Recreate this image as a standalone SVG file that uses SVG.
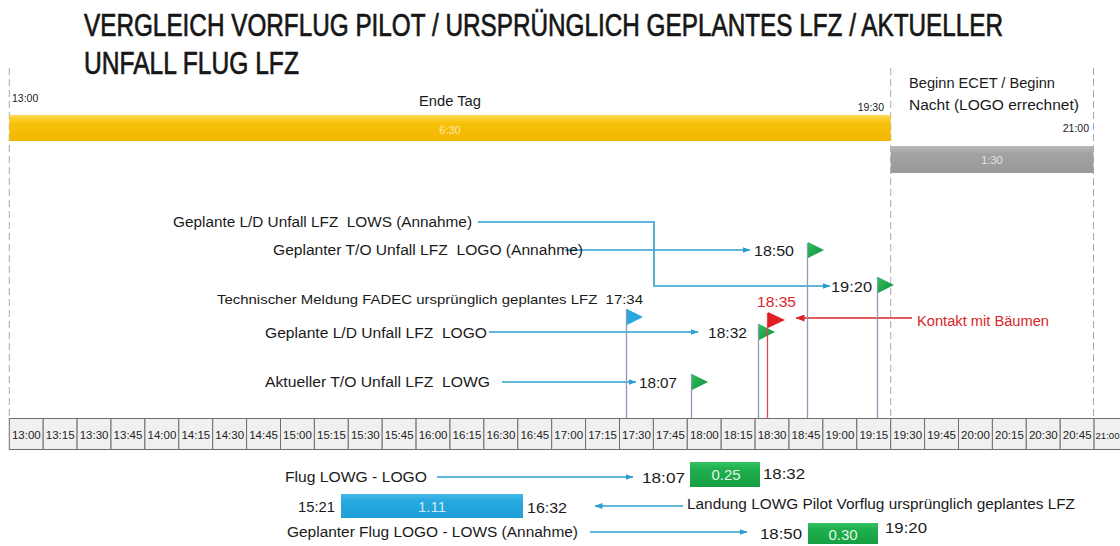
<svg xmlns="http://www.w3.org/2000/svg" width="1120" height="546" viewBox="0 0 1120 546">
<defs>
<style>
text{font-family:"Liberation Sans",Arial,sans-serif;fill:#1a1a1a;white-space:pre}
.title{font-size:32px;font-weight:normal;fill:#161616;stroke:#161616;stroke-width:0.7}
.lbl{font-size:14px}
.tm{font-size:15.5px}
.sm{font-size:10.5px}
.red{fill:#d8262a}
.cell rect{fill:#f0f0f0;stroke:#6e6e6e;stroke-width:1}
.cell text{font-size:11.5px;text-anchor:middle;fill:#222}
.conn{stroke:#2a9fd0;stroke-width:1.6;fill:none}
.rconn{stroke:#d8262a;stroke-width:1.6;fill:none}
.pole{stroke:#8d9ab0;stroke-width:1.3}
.dash{stroke:#a3aab3;stroke-width:1;stroke-dasharray:7 4}
.btxt{font-size:15px;text-anchor:middle}
</style>
<linearGradient id="gY" x1="0" y1="0" x2="0" y2="1"><stop offset="0" stop-color="#fdd94f"/><stop offset="0.3" stop-color="#f8c20c"/><stop offset="1" stop-color="#f2b600"/></linearGradient>
<linearGradient id="gG" x1="0" y1="0" x2="0" y2="1"><stop offset="0" stop-color="#b9b9b9"/><stop offset="0.3" stop-color="#a2a2a2"/><stop offset="1" stop-color="#9a9a9a"/></linearGradient>
<linearGradient id="gB" x1="0" y1="0" x2="0" y2="1"><stop offset="0" stop-color="#45b9e8"/><stop offset="0.3" stop-color="#27a8df"/><stop offset="1" stop-color="#1f9fd8"/></linearGradient>
<linearGradient id="gGr" x1="0" y1="0" x2="0" y2="1"><stop offset="0" stop-color="#34c263"/><stop offset="0.3" stop-color="#1fae4d"/><stop offset="1" stop-color="#16a044"/></linearGradient>
<linearGradient id="gF" x1="0" y1="0" x2="1" y2="1"><stop offset="0" stop-color="#2fbf5c"/><stop offset="1" stop-color="#0f8e3c"/></linearGradient>
<marker id="ab" markerWidth="8" markerHeight="6" refX="7.5" refY="3" orient="auto" markerUnits="userSpaceOnUse"><path d="M0,0 L8,3 L0,6 Z" fill="#2a9fd0"/></marker>
<marker id="ar" markerWidth="9" markerHeight="7" refX="8.5" refY="3.5" orient="auto" markerUnits="userSpaceOnUse"><path d="M0,0 L9,3.5 L0,7 Z" fill="#d8262a"/></marker>
</defs>
<rect width="1120" height="546" fill="#ffffff"/>

<g id="title">
<text class="title" transform="translate(84,36) scale(0.7,1)" x="0" y="0" textLength="1313" lengthAdjust="spacingAndGlyphs">VERGLEICH VORFLUG PILOT / URSPRÜNGLICH GEPLANTES LFZ / AKTUELLER</text>
<text class="title" transform="translate(84,74) scale(0.7,1)" x="0" y="0" textLength="307" lengthAdjust="spacingAndGlyphs">UNFALL FLUG LFZ</text>
</g>

<g id="guides">
<line class="dash" x1="9.3" y1="68" x2="9.3" y2="417"/>
<line class="dash" x1="890.7" y1="68" x2="890.7" y2="417"/>
<line class="dash" x1="1093.5" y1="68" x2="1093.5" y2="417"/>
</g>

<g id="day-bar">
<text class="sm" x="12" y="102">13:00</text>
<text class="lbl" x="419" y="106" textLength="62" lengthAdjust="spacingAndGlyphs">Ende Tag</text>
<text class="sm" x="884" y="110.5" text-anchor="end">19:30</text>
<rect x="9.3" y="115" width="881.4" height="26" fill="url(#gY)"/>
<text x="450" y="133.5" text-anchor="middle" style="font-size:11px;fill:#fbe7a6">6:30</text>
</g>

<g id="night-bar">
<text class="lbl" x="909" y="88" textLength="146" lengthAdjust="spacingAndGlyphs">Beginn ECET / Beginn</text>
<text class="lbl" x="909" y="110" textLength="170" lengthAdjust="spacingAndGlyphs">Nacht (LOGO errechnet)</text>
<text class="sm" x="1089" y="132" text-anchor="end">21:00</text>
<rect x="890.7" y="146" width="202.8" height="27" fill="url(#gG)"/>
<text x="992" y="163.5" text-anchor="middle" style="font-size:11px;fill:#e4e4e4">1:30</text>
</g>

<g id="connectors">
<polyline class="conn" points="478,222 654,222 654,286 830,286" marker-end="url(#ab)"/>
<line class="conn" x1="565" y1="250" x2="750" y2="250" marker-end="url(#ab)"/>
<line class="conn" x1="489" y1="332" x2="698" y2="332" marker-end="url(#ab)"/>
<line class="conn" x1="502" y1="382" x2="636" y2="382" marker-end="url(#ab)"/>
<line class="rconn" x1="912" y1="318" x2="796" y2="318" marker-end="url(#ar)"/>
<line class="conn" x1="437" y1="477" x2="633" y2="477" marker-end="url(#ab)"/>
<line class="conn" x1="683" y1="506" x2="595" y2="506" marker-end="url(#ab)"/>
<line class="conn" x1="590" y1="532" x2="747" y2="532" marker-end="url(#ab)"/>
</g>

<g id="label-ld-lows">
<text class="lbl" x="173" y="227" textLength="299" lengthAdjust="spacingAndGlyphs">Geplante L/D Unfall LFZ  LOWS (Annahme)</text>
</g>
<g id="label-to-logo">
<text class="lbl" x="273" y="255" textLength="310" lengthAdjust="spacingAndGlyphs">Geplanter T/O Unfall LFZ  LOGO (Annahme)</text>
</g>
<g id="label-fadec">
<text class="lbl" x="217" y="304" textLength="426" lengthAdjust="spacingAndGlyphs" style="font-size:13.5px">Technischer Meldung FADEC ursprünglich geplantes LFZ  17:34</text>
</g>
<g id="label-ld-logo">
<text class="lbl" x="265" y="338" textLength="222" lengthAdjust="spacingAndGlyphs">Geplante L/D Unfall LFZ  LOGO</text>
</g>
<g id="label-to-lowg">
<text class="lbl" x="265" y="387" textLength="225" lengthAdjust="spacingAndGlyphs">Aktueller T/O Unfall LFZ  LOWG</text>
</g>

<g id="flag-1734">
<line class="pole" x1="626.5" y1="309" x2="626.5" y2="418"/>
<path d="M627,309 L643,317 L627,325 Z" fill="#2aa6e0"/>
</g>
<g id="flag-1807">
<text class="tm" x="639" y="387.5" textLength="38" lengthAdjust="spacingAndGlyphs">18:07</text>
<line class="pole" x1="691.5" y1="374" x2="691.5" y2="418"/>
<path d="M692,374 L708,382 L692,390 Z" fill="url(#gF)"/>
</g>
<g id="flag-1832">
<text class="tm" x="708" y="337.5" textLength="39" lengthAdjust="spacingAndGlyphs">18:32</text>
<line class="pole" x1="758.5" y1="324" x2="758.5" y2="418"/>
<path d="M759,324 L775,332 L759,340 Z" fill="url(#gF)"/>
</g>
<g id="flag-1835">
<text class="tm red" x="757" y="306.5" textLength="39" lengthAdjust="spacingAndGlyphs">18:35</text>
<line x1="767.5" y1="313" x2="767.5" y2="418" stroke="#e0484a" stroke-width="1.3"/>
<path d="M768,312 L785,320 L768,328 Z" fill="#e21f26"/>
</g>
<g id="label-kontakt">
<text class="lbl red" x="917" y="326" textLength="132" lengthAdjust="spacingAndGlyphs">Kontakt mit Bäumen</text>
</g>
<g id="flag-1850">
<text class="tm" x="754" y="255.5" textLength="40" lengthAdjust="spacingAndGlyphs">18:50</text>
<line class="pole" x1="807.5" y1="243" x2="807.5" y2="418"/>
<path d="M808,242 L824,250 L808,258 Z" fill="url(#gF)"/>
</g>
<g id="flag-1920">
<text class="tm" x="831" y="291.5" textLength="41" lengthAdjust="spacingAndGlyphs">19:20</text>
<line class="pole" x1="877.5" y1="277" x2="877.5" y2="418"/>
<path d="M878,277 L894,285 L878,293 Z" fill="url(#gF)"/>
</g>

<g id="timeline" class="cell">
<rect x="9.3" y="418.5" width="33.9" height="31"/><text x="26.3" y="439">13:00</text>
<rect x="43.2" y="418.5" width="33.9" height="31"/><text x="60.2" y="439">13:15</text>
<rect x="77.1" y="418.5" width="33.9" height="31"/><text x="94.1" y="439">13:30</text>
<rect x="111.0" y="418.5" width="33.9" height="31"/><text x="128.0" y="439">13:45</text>
<rect x="144.9" y="418.5" width="33.9" height="31"/><text x="161.9" y="439">14:00</text>
<rect x="178.8" y="418.5" width="33.9" height="31"/><text x="195.8" y="439">14:15</text>
<rect x="212.7" y="418.5" width="33.9" height="31"/><text x="229.7" y="439">14:30</text>
<rect x="246.6" y="418.5" width="33.9" height="31"/><text x="263.6" y="439">14:45</text>
<rect x="280.5" y="418.5" width="33.9" height="31"/><text x="297.5" y="439">15:00</text>
<rect x="314.4" y="418.5" width="33.9" height="31"/><text x="331.4" y="439">15:15</text>
<rect x="348.3" y="418.5" width="33.9" height="31"/><text x="365.3" y="439">15:30</text>
<rect x="382.2" y="418.5" width="33.9" height="31"/><text x="399.2" y="439">15:45</text>
<rect x="416.1" y="418.5" width="33.9" height="31"/><text x="433.1" y="439">16:00</text>
<rect x="450.0" y="418.5" width="33.9" height="31"/><text x="467.0" y="439">16:15</text>
<rect x="483.9" y="418.5" width="33.9" height="31"/><text x="500.9" y="439">16:30</text>
<rect x="517.8" y="418.5" width="33.9" height="31"/><text x="534.8" y="439">16:45</text>
<rect x="551.7" y="418.5" width="33.9" height="31"/><text x="568.7" y="439">17:00</text>
<rect x="585.6" y="418.5" width="33.9" height="31"/><text x="602.6" y="439">17:15</text>
<rect x="619.5" y="418.5" width="33.9" height="31"/><text x="636.5" y="439">17:30</text>
<rect x="653.4" y="418.5" width="33.9" height="31"/><text x="670.4" y="439">17:45</text>
<rect x="687.3" y="418.5" width="33.9" height="31"/><text x="704.3" y="439">18:00</text>
<rect x="721.2" y="418.5" width="33.9" height="31"/><text x="738.2" y="439">18:15</text>
<rect x="755.1" y="418.5" width="33.9" height="31"/><text x="772.1" y="439">18:30</text>
<rect x="789.0" y="418.5" width="33.9" height="31"/><text x="806.0" y="439">18:45</text>
<rect x="822.9" y="418.5" width="33.9" height="31"/><text x="839.9" y="439">19:00</text>
<rect x="856.8" y="418.5" width="33.9" height="31"/><text x="873.8" y="439">19:15</text>
<rect x="890.7" y="418.5" width="33.9" height="31"/><text x="907.7" y="439">19:30</text>
<rect x="924.6" y="418.5" width="33.9" height="31"/><text x="941.6" y="439">19:45</text>
<rect x="958.5" y="418.5" width="33.9" height="31"/><text x="975.5" y="439">20:00</text>
<rect x="992.4" y="418.5" width="33.9" height="31"/><text x="1009.4" y="439">20:15</text>
<rect x="1026.3" y="418.5" width="33.9" height="31"/><text x="1043.3" y="439">20:30</text>
<rect x="1060.2" y="418.5" width="33.9" height="31"/><text x="1077.2" y="439">20:45</text>
<rect x="1094.1" y="418.5" width="33.9" height="31"/><text x="1095.5" y="439" style="font-size:9.6px;text-anchor:start">21:00</text>
</g>

<g id="flight-lowg-logo">
<text class="lbl" x="285" y="482" textLength="142" lengthAdjust="spacingAndGlyphs">Flug LOWG - LOGO</text>
<text class="tm" x="642" y="482.5" textLength="43" lengthAdjust="spacingAndGlyphs">18:07</text>
<rect x="690" y="462" width="70" height="25" fill="url(#gGr)"/>
<text class="btxt" x="726" y="480" style="fill:#e3f6e8">0.25</text>
<text class="tm" x="763" y="478.5" textLength="42" lengthAdjust="spacingAndGlyphs">18:32</text>
</g>

<g id="flight-pilot">
<text class="tm" x="298" y="512" textLength="37" lengthAdjust="spacingAndGlyphs">15:21</text>
<rect x="341" y="494" width="182" height="24" fill="url(#gB)"/>
<text class="btxt" x="432" y="511.5" style="fill:#cdebf8">1.11</text>
<text class="tm" x="527" y="512.5" textLength="40" lengthAdjust="spacingAndGlyphs">16:32</text>
<text class="lbl" x="687" y="508.5" textLength="388" lengthAdjust="spacingAndGlyphs">Landung LOWG Pilot Vorflug ursprünglich geplantes LFZ</text>
</g>

<g id="flight-logo-lows">
<text class="lbl" x="287" y="537" textLength="291" lengthAdjust="spacingAndGlyphs">Geplanter Flug LOGO - LOWS (Annahme)</text>
<text class="tm" x="760" y="538.5" textLength="42" lengthAdjust="spacingAndGlyphs">18:50</text>
<rect x="808" y="523" width="70" height="21" fill="url(#gGr)"/>
<text class="btxt" x="843" y="540" style="fill:#e3f6e8">0.30</text>
<text class="tm" x="885" y="532.5" textLength="42" lengthAdjust="spacingAndGlyphs">19:20</text>
</g>
</svg>
